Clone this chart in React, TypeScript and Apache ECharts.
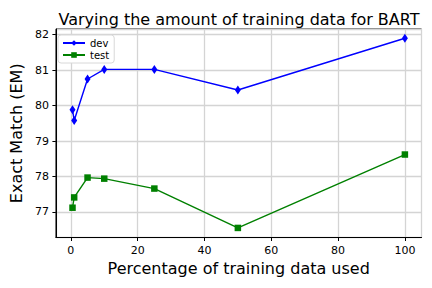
import React, { useEffect, useRef } from "react";
import * as echarts from "echarts";

const xValues = [0.5, 1, 5, 10, 25, 50, 100];
const devValues = [79.88, 79.58, 80.75, 81.02, 81.02, 80.44, 81.9];
const testValues = [77.12, 77.41, 77.97, 77.94, 77.66, 76.55, 78.62];
const titleText = "Varying the amount of training data for BART";
const xLabel = "Percentage of training data used";
const yLabel = "Exact Match (EM)";

const FONT = "DejaVu Sans";

export default function App() {
  const ref = useRef<HTMLDivElement>(null);
  useEffect(() => {
    document.body.style.margin = "0";
    const chart = echarts.init(ref.current!, null, { renderer: "svg" });
    const axisCommon = {
      axisLine: { show: true, onZero: false, lineStyle: { color: "#000", width: 1 } },
      axisTick: { show: true, length: 3.5, lineStyle: { color: "#000", width: 1 } },
      splitLine: { show: true, lineStyle: { color: "#d4d4d4", width: 1.3 } },
      axisLabel: {
        color: "#000",
        fontSize: 11,
        fontFamily: FONT,
        margin: 7,
        showMinLabel: false,
        showMaxLabel: false,
      },
      nameLocation: "middle" as const,
      nameTextStyle: { color: "#000", fontSize: 16, fontFamily: FONT },
    };
    chart.setOption({
      animation: false,
      backgroundColor: "#fff",
      title: {
        text: titleText,
        left: 234,
        top: 6,
        textAlign: "center",
        textStyle: { fontSize: 16, fontWeight: "normal", fontFamily: FONT, color: "#000" },
      },
      grid: {
        left: 54,
        right: 10.5,
        top: 29,
        bottom: 50.5,
        show: true,
        borderColor: "#000",
        borderWidth: 1,
        backgroundColor: "transparent",
      },
      legend: {
        orient: "vertical",
        left: 58,
        top: 35,
        padding: [3, 5, 3, 4],
        itemGap: 2,
        itemWidth: 22,
        itemHeight: 7,
        backgroundColor: "#fff",
        borderColor: "#d8d8d8",
        borderWidth: 1,
        borderRadius: 3,
        textStyle: { fontSize: 10, fontFamily: FONT, color: "#000" },
        data: ["dev", "test"],
      },
      xAxis: {
        type: "value",
        min: -4.475,
        max: 104.975,
        splitNumber: 5,
        name: xLabel,
        nameGap: 22,
        ...axisCommon,
      },
      yAxis: {
        type: "value",
        min: 76.28,
        max: 82.16,
        splitNumber: 5,
        name: yLabel,
        nameGap: 28,
        ...axisCommon,
      },
      series: [
        {
          name: "dev",
          type: "line",
          data: xValues.map((x, i) => [x, devValues[i]]),
          symbol: "path://M0,-1L0.6,0L0,1L-0.6,0Z",
          symbolSize: [6, 9],
          showAllSymbol: true,
          lineStyle: { color: "#0000ff", width: 1.4 },
          itemStyle: { color: "#0000ff" },
          z: 3,
        },
        {
          name: "test",
          type: "line",
          data: xValues.map((x, i) => [x, testValues[i]]),
          symbol: "rect",
          symbolSize: 6.5,
          showAllSymbol: true,
          lineStyle: { color: "#008000", width: 1.4 },
          itemStyle: { color: "#008000" },
          z: 3,
        },
      ],
    });
    return () => chart.dispose();
  }, []);
  return <div ref={ref} style={{ width: 432, height: 288 }} />;
}
